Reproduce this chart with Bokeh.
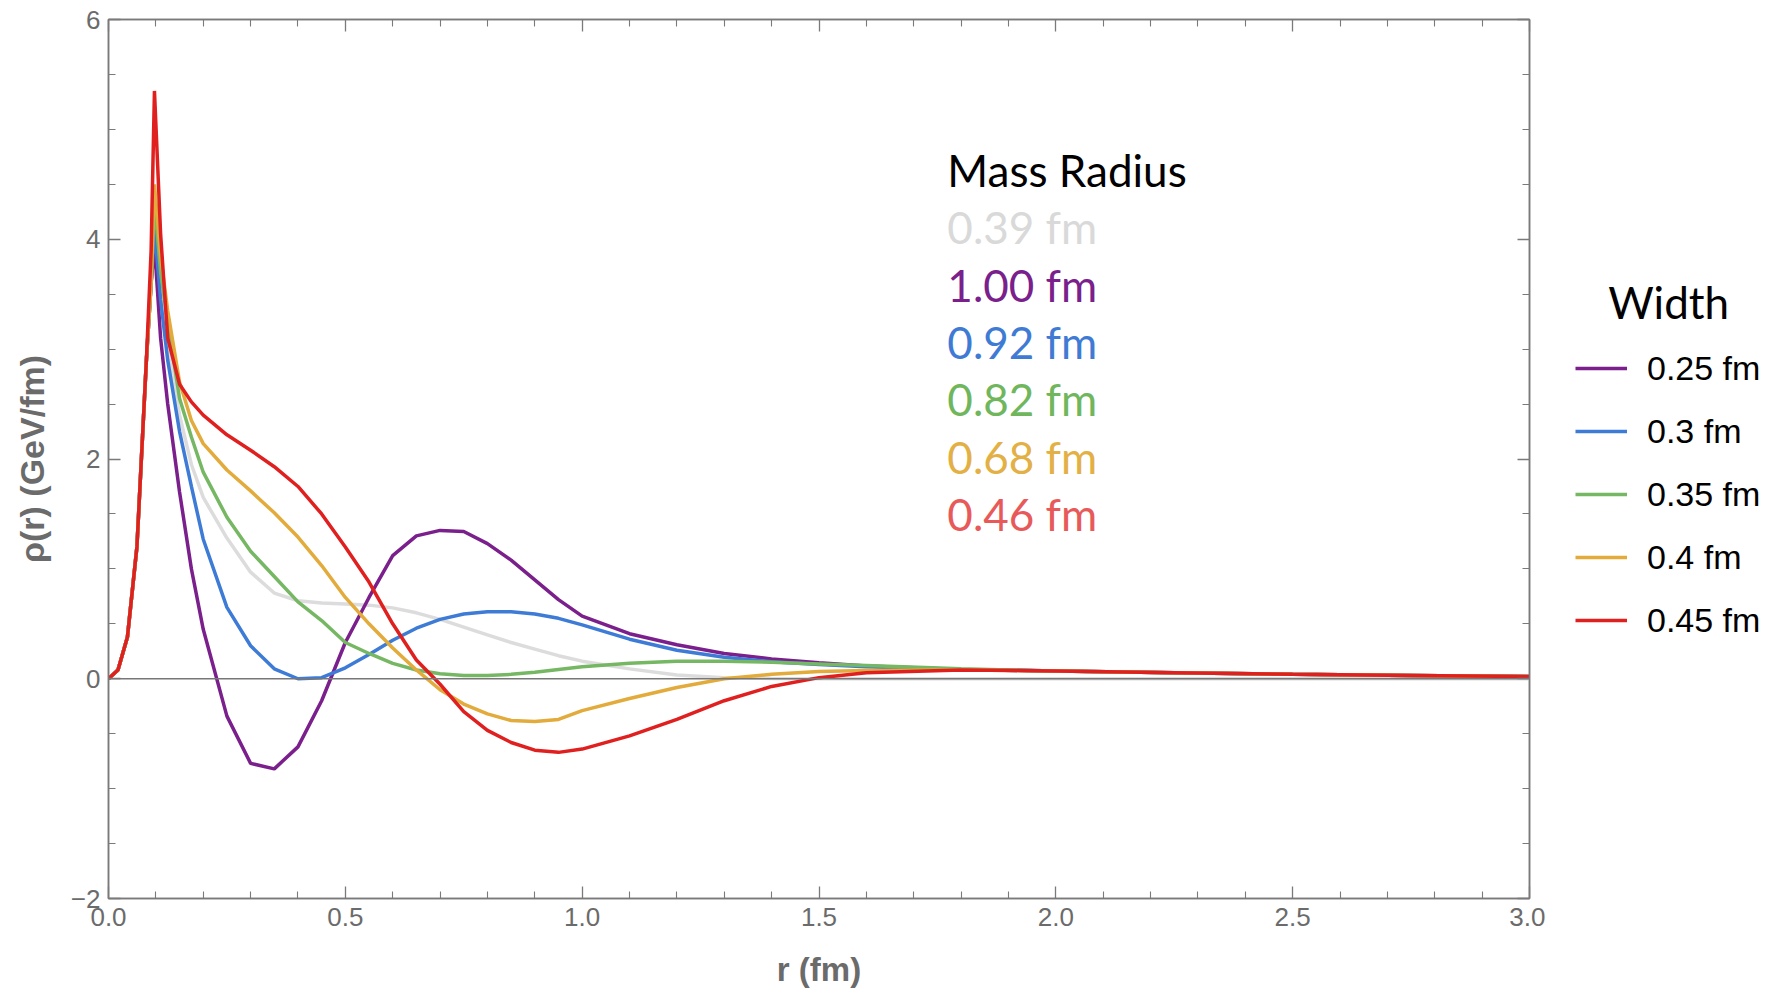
from bokeh.plotting import figure
from bokeh.models import (Range1d, FixedTicker, LinearAxis, Span, Label,
                          Legend, LegendItem, CustomLabelingPolicy)
from bokeh.layouts import row
from bokeh.embed import file_html
from bokeh.resources import INLINE

# ---------------- data ----------------
r = [0, 0.02, 0.04, 0.06, 0.08, 0.09, 0.097, 0.11, 0.125, 0.15, 0.175, 0.2,
     0.25, 0.3, 0.35, 0.4, 0.45, 0.5, 0.55, 0.6, 0.65, 0.7, 0.75, 0.8, 0.85,
     0.9, 0.95, 1.0, 1.1, 1.2, 1.3, 1.4, 1.5, 1.6, 1.8, 2.0, 2.25, 2.5, 2.75, 3.0]

rho_mass_039 = [0, 0.08, 0.38, 1.2, 2.9, 3.6, 4.25, 3.55, 3.05, 2.4, 1.95, 1.65,
                1.28, 0.97, 0.78, 0.71, 0.69, 0.68, 0.67, 0.645, 0.60, 0.54, 0.47, 0.40, 0.33,
                0.27, 0.21, 0.16, 0.09, 0.035, 0.01, 0.003, 0.0, 0.0, 0.0, 0.0, 0.0, 0.0, 0.0, 0.0]
rho_w025 = [0, 0.08, 0.38, 1.2, 2.9, 3.6, 3.95, 3.1, 2.5, 1.7, 1.0, 0.45,
            -0.34, -0.77, -0.82, -0.62, -0.2, 0.33, 0.74, 1.12, 1.30, 1.35, 1.34, 1.23, 1.08,
            0.90, 0.72, 0.57, 0.41, 0.31, 0.23, 0.18, 0.145, 0.115, 0.085, 0.07, 0.055, 0.04, 0.03, 0.02]
rho_w030 = [0, 0.08, 0.38, 1.2, 2.9, 3.6, 4.1, 3.45, 2.9, 2.25, 1.75, 1.27,
            0.65, 0.3, 0.09, 0.0, 0.01, 0.1, 0.22, 0.35, 0.46, 0.54, 0.59, 0.61, 0.61,
            0.59, 0.55, 0.49, 0.36, 0.26, 0.195, 0.155, 0.13, 0.11, 0.085, 0.07, 0.055, 0.04, 0.03, 0.02]
rho_w035 = [0, 0.08, 0.38, 1.2, 2.9, 3.6, 4.35, 3.7, 3.25, 2.55, 2.2, 1.88,
            1.47, 1.16, 0.93, 0.70, 0.53, 0.33, 0.23, 0.14, 0.08, 0.045, 0.03, 0.03, 0.04,
            0.06, 0.085, 0.11, 0.14, 0.16, 0.16, 0.15, 0.135, 0.12, 0.09, 0.07, 0.055, 0.04, 0.03, 0.02]
rho_w040 = [0, 0.08, 0.38, 1.2, 2.9, 3.6, 4.5, 3.85, 3.35, 2.7, 2.35, 2.14,
            1.9, 1.71, 1.51, 1.29, 1.03, 0.74, 0.5, 0.28, 0.08, -0.1, -0.23, -0.32, -0.38,
            -0.39, -0.37, -0.29, -0.18, -0.08, 0.0, 0.04, 0.065, 0.075, 0.08, 0.07, 0.055, 0.04, 0.03, 0.02]
rho_w045 = [0, 0.08, 0.38, 1.2, 2.9, 3.9, 5.35, 4.05, 3.1, 2.68, 2.52, 2.4,
            2.22, 2.08, 1.93, 1.75, 1.5, 1.2, 0.88, 0.5, 0.17, -0.05, -0.3, -0.47, -0.58,
            -0.65, -0.67, -0.64, -0.52, -0.37, -0.2, -0.07, 0.01, 0.055, 0.08, 0.07, 0.055, 0.04, 0.03, 0.02]

legend_title = "Width"
width_labels = ["0.25 fm", "0.3 fm", "0.35 fm", "0.4 fm", "0.45 fm"]
mass_radius_title = "Mass Radius"
mass_radius_labels = ["0.39 fm", "1.00 fm", "0.92 fm", "0.82 fm", "0.68 fm", "0.46 fm"]

x_ticks = [0.0, 0.5, 1.0, 1.5, 2.0, 2.5, 3.0]
x_tick_labels = ["0.0", "0.5", "1.0", "1.5", "2.0", "2.5", "3.0"]
x_minor = [0.1, 0.2, 0.3, 0.4, 0.6, 0.7, 0.8, 0.9, 1.1, 1.2, 1.3, 1.4, 1.6, 1.7, 1.8, 1.9,
           2.1, 2.2, 2.3, 2.4, 2.6, 2.7, 2.8, 2.9]
y_ticks = [-2, 0, 2, 4, 6]
y_tick_labels = ["\u22122", "0", "2", "4", "6"]
y_minor = [-1.5, -1, -0.5, 0.5, 1, 1.5, 2.5, 3, 3.5, 4.5, 5, 5.5]

# ---------------- styles ----------------
GRAY_AX = "#7a7a7a"
LBL = "#6b6b6b"
c_gray = "#dcdcdc"
c_purple = "#7a1f8c"
c_blue = "#3d7bd6"
c_green = "#76b764"
c_orange = "#e2ab3b"
c_red = "#e01f1f"
width_colors = [c_purple, c_blue, c_green, c_orange, c_red]
txt_colors = ["#d9d9d9", "#7a1f8c", "#3f7bd4", "#70b65c", "#e3b045", "#e85a5a"]

H = 990
p = figure(width=1545, height=H, x_range=Range1d(0, 3), y_range=Range1d(-2, 6),
           output_backend="svg", toolbar_location=None,
           x_axis_type=None, y_axis_type=None,
           min_border_left=108, min_border_right=11, min_border_top=19,
           min_border_bottom=91)
p.outline_line_color = GRAY_AX
p.outline_line_width = 1.5
p.grid.visible = False
p.background_fill_color = "white"
p.border_fill_color = "white"


def style_axis(ax, labels=True):
    ax.axis_line_color = GRAY_AX
    ax.axis_line_width = 1.5
    ax.major_tick_line_color = GRAY_AX
    ax.minor_tick_line_color = GRAY_AX
    ax.major_tick_line_width = 1.3
    ax.minor_tick_line_width = 1.1
    ax.major_tick_in = 12
    ax.major_tick_out = 0
    ax.minor_tick_in = 7
    ax.minor_tick_out = 0
    if labels:
        ax.major_label_text_font = "Liberation Sans"
        ax.major_label_text_font_size = "26px"
        ax.major_label_text_color = LBL
    else:
        ax.major_label_policy = CustomLabelingPolicy(code="return []")
        ax.major_label_standoff = 0


xt = FixedTicker(ticks=x_ticks, minor_ticks=x_minor)
yt = FixedTicker(ticks=y_ticks, minor_ticks=y_minor)

xb = LinearAxis(ticker=xt, axis_label="r (fm)",
                major_label_overrides={t: s for t, s in zip(x_ticks, x_tick_labels)})
style_axis(xb)
xb.major_label_standoff = 9
xb.axis_label_text_font = "Liberation Sans"
xb.axis_label_text_font_style = "bold"
xb.axis_label_text_font_size = "33px"
xb.axis_label_text_color = LBL
xb.axis_label_standoff = 22
p.add_layout(xb, "below")

yl = LinearAxis(ticker=yt, axis_label="\u03c1(r) (GeV/fm)",
                major_label_overrides={t: s for t, s in zip(y_ticks, y_tick_labels)})
style_axis(yl)
yl.major_label_standoff = 8
yl.axis_label_text_font = "Liberation Sans"
yl.axis_label_text_font_style = "bold"
yl.axis_label_text_font_size = "34px"
yl.axis_label_text_color = LBL
yl.axis_label_standoff = 17
p.add_layout(yl, "left")

xt_top = LinearAxis(ticker=xt)
style_axis(xt_top, labels=False)
p.add_layout(xt_top, "above")
yr = LinearAxis(ticker=yt)
style_axis(yr, labels=False)
p.add_layout(yr, "right")

p.add_layout(Span(location=0, dimension="width", line_color="#777777", line_width=1.3))

LW = 3.5
series = [rho_w025, rho_w030, rho_w035, rho_w040, rho_w045]
p.line(r, rho_mass_039, line_color=c_gray, line_width=LW)
for ys, c in zip(series, width_colors):
    p.line(r, ys, line_color=c, line_width=LW)

# Mass radius annotation block
mr_x = 1.771
mr_y0 = 4.63
step = 0.522
p.add_layout(Label(x=mr_x, y=mr_y0, text=mass_radius_title, text_font="Lato",
                   text_font_size="44px", text_color="black",
                   text_baseline="alphabetic"))
for i, (t, c) in enumerate(zip(mass_radius_labels, txt_colors)):
    p.add_layout(Label(x=mr_x, y=mr_y0 - (i + 1) * step, text=t, text_font="Lato",
                       text_font_size="44px", text_color=c,
                       text_baseline="alphabetic"))

# ---------------- legend panel (right of the plot) ----------------
# the same series are plotted here outside the visible range, only as legend keys
q = figure(width=225, height=H, x_range=Range1d(10, 11), y_range=Range1d(10, 11),
           output_backend="svg", toolbar_location=None,
           x_axis_type=None, y_axis_type=None, min_border=0)
q.outline_line_color = None
q.grid.visible = False
q.border_fill_color = "white"
q.background_fill_color = "white"
leg_renderers = [q.line(r, ys, line_color=c, line_width=LW)
                 for ys, c in zip(series, width_colors)]

legend = Legend(items=[LegendItem(label=lab, renderers=[rr])
                       for lab, rr in zip(width_labels, leg_renderers)],
                title="\u00a0\u00a0\u00a0" + legend_title,
                title_text_font="Lato", title_text_font_size="44px",
                title_text_font_style="normal", title_text_color="black",
                title_standoff=20,
                location=(30, 258), padding=0, margin=0, spacing=23,
                glyph_width=52, glyph_height=40, label_height=40, label_standoff=20,
                label_text_font="Liberation Sans", label_text_font_size="34px",
                label_text_color="black", border_line_color=None,
                background_fill_alpha=0)
q.add_layout(legend)

layout = row(p, q)
open("out.html", "w").write(file_html(layout, INLINE))
